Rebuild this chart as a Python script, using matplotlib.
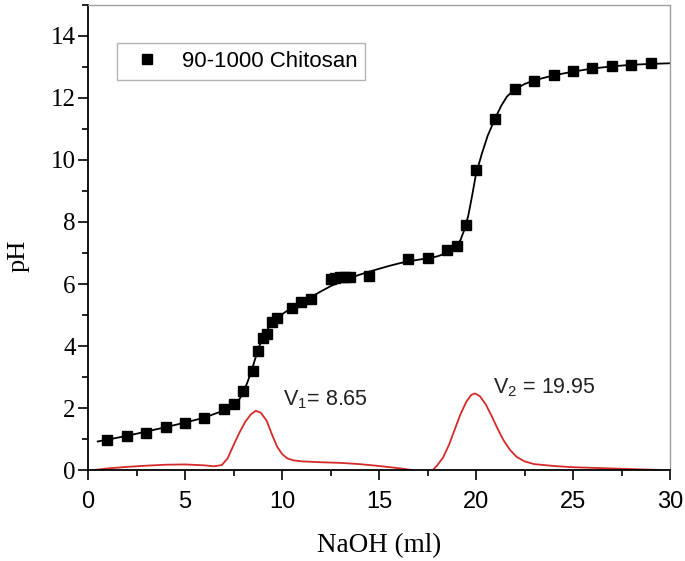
import numpy as np
import matplotlib.pyplot as plt
from matplotlib.ticker import MultipleLocator

# measured points (NaOH ml, pH)
vol = [1.0, 2.0, 3.0, 4.0, 5.0, 6.0, 7.0, 7.5, 8.0, 8.5, 8.75, 9.0, 9.25,
       9.5, 9.75, 10.5, 11.0, 11.5, 12.5, 12.75, 13.0, 13.25, 13.5, 14.5,
       16.5, 17.5, 18.5, 19.0, 19.5, 20.0, 21.0, 22.0, 23.0, 24.0, 25.0,
       26.0, 27.0, 28.0, 29.0]
ph = [0.97, 1.11, 1.20, 1.38, 1.53, 1.68, 1.96, 2.13, 2.56, 3.18, 3.85, 4.25,
      4.38, 4.76, 4.91, 5.24, 5.42, 5.53, 6.16, 6.20, 6.23, 6.23, 6.23, 6.26,
      6.80, 6.85, 7.10, 7.23, 7.90, 9.68, 11.33, 12.28, 12.56, 12.73, 12.86,
      12.96, 13.03, 13.08, 13.12]

# fitted curve
fit_x = [0.5, 1, 2, 3, 4, 5, 6, 7, 7.5, 7.8, 8.0, 8.2, 8.4, 8.6, 8.8, 9.0,
         9.3, 9.6, 10, 10.5, 11, 11.5, 12, 12.5, 13, 13.5, 14, 14.5, 15, 15.5,
         16, 16.5, 17, 17.5, 18, 18.5, 18.8, 19.0, 19.2, 19.4, 19.6, 19.8,
         20.0, 20.3, 20.6, 21.0, 21.3, 21.6, 22.0, 22.5, 23, 24, 25, 26, 27,
         28, 29, 30]
fit_y = [0.92, 0.98, 1.10, 1.24, 1.38, 1.53, 1.69, 1.92, 2.08, 2.28, 2.50,
         2.80, 3.15, 3.55, 3.95, 4.25, 4.58, 4.80, 5.02, 5.24, 5.42, 5.58,
         5.76, 5.93, 6.07, 6.19, 6.30, 6.40, 6.49, 6.58, 6.66, 6.73, 6.78,
         6.83, 6.89, 7.00, 7.10, 7.22, 7.42, 7.75, 8.20, 8.85, 9.55, 10.20,
         10.78, 11.36, 11.75, 12.05, 12.28, 12.45, 12.57, 12.73, 12.85, 12.95,
         13.02, 13.07, 13.10, 13.12]

# first derivative curve (red)
der_x = [0.3, 1, 2, 3, 4, 5, 6, 6.5, 6.9, 7.2, 7.5, 7.8, 8.1, 8.4, 8.65, 8.9,
         9.2, 9.5, 9.75, 10.0, 10.25, 10.6, 11, 12, 13, 14, 15, 16, 16.7, 17.2,
         17.7, 18.0, 18.3, 18.6, 18.9, 19.2, 19.5, 19.75, 19.95, 20.2, 20.5,
         20.8, 21.1, 21.4, 21.75, 22.1, 22.5, 23, 24, 25, 26, 27, 28, 29, 29.5]
der_y = [0.0, 0.05, 0.10, 0.14, 0.17, 0.18, 0.15, 0.12, 0.16, 0.38, 0.80,
         1.20, 1.55, 1.80, 1.91, 1.85, 1.60, 1.12, 0.75, 0.52, 0.38, 0.31,
         0.28, 0.25, 0.23, 0.19, 0.13, 0.06, 0.0, -0.1, -0.05, 0.15, 0.40,
         0.80, 1.30, 1.80, 2.20, 2.42, 2.47, 2.38, 2.12, 1.75, 1.35, 0.98,
         0.65, 0.42, 0.28, 0.19, 0.13, 0.09, 0.07, 0.05, 0.03, 0.01, 0.0]

v1_label = "$\\mathregular{V_1}$= 8.65"
v2_label = "$\\mathregular{V_2}$ = 19.95"

plt.rcParams['mathtext.fontset'] = 'custom'
plt.rcParams['mathtext.rm'] = 'Liberation Sans'

fig = plt.figure(figsize=(6.85, 5.61), dpi=100)
ax = fig.add_axes([0.1285, 0.1622, 0.8496, 0.8289])

ax.plot(fit_x, fit_y, color="black", lw=1.3, zorder=2)
ax.plot(vol, ph, "s", color="black", ms=6.5, label="90-1000 Chitosan", zorder=3)
ax.plot(der_x, der_y, color="#d42a2a", lw=1.3, zorder=2)

ax.text(10.05, 2.1, v1_label, fontsize=15.5, family="Liberation Sans",
        color="#222222", ha="left", va="baseline")
ax.text(20.88, 2.48, v2_label, fontsize=15.5, family="Liberation Sans",
        color="#222222", ha="left", va="baseline")

ax.set_xlim(0, 30)
ax.set_ylim(0, 15)
ax.xaxis.set_major_locator(MultipleLocator(5))
ax.xaxis.set_minor_locator(MultipleLocator(2.5))
ax.yaxis.set_major_locator(MultipleLocator(2))
ax.yaxis.set_minor_locator(MultipleLocator(1))
ax.tick_params(which="both", direction="out", top=False, right=False, width=1.2)
ax.tick_params(which="major", length=7)
ax.tick_params(which="minor", length=4)
ax.tick_params(axis="x", pad=8)
ax.tick_params(axis="y", pad=2)

for lbl in ax.get_xticklabels():
    lbl.set_family("Liberation Sans")
    lbl.set_fontsize(17)
for lbl in ax.get_yticklabels():
    lbl.set_family("Liberation Serif")
    lbl.set_fontsize(18)

ax.set_xlabel("NaOH (ml)", family="Liberation Serif", fontsize=19.5)
ax.set_ylabel("pH", family="Liberation Serif", fontsize=19)
ax.yaxis.set_label_coords(-0.1, 0.46)
ax.xaxis.set_label_coords(0.5, -0.135)

for side in ["top", "right"]:
    ax.spines[side].set_color("#a0a0a0")
    ax.spines[side].set_linewidth(1.0)
for side in ["left", "bottom"]:
    ax.spines[side].set_color("black")
    ax.spines[side].set_linewidth(1.3)

leg = ax.legend(loc="upper left", bbox_to_anchor=(0.049, 0.918), borderaxespad=0,
                numpoints=1, handlelength=2.0, handletextpad=0.6, borderpad=0.35,
                fancybox=False, prop={"family": "Liberation Sans", "size": 16})
leg.get_frame().set_edgecolor("#a0a0a0")
leg.get_frame().set_linewidth(1.0)

fig.savefig("out.png", dpi=100)
